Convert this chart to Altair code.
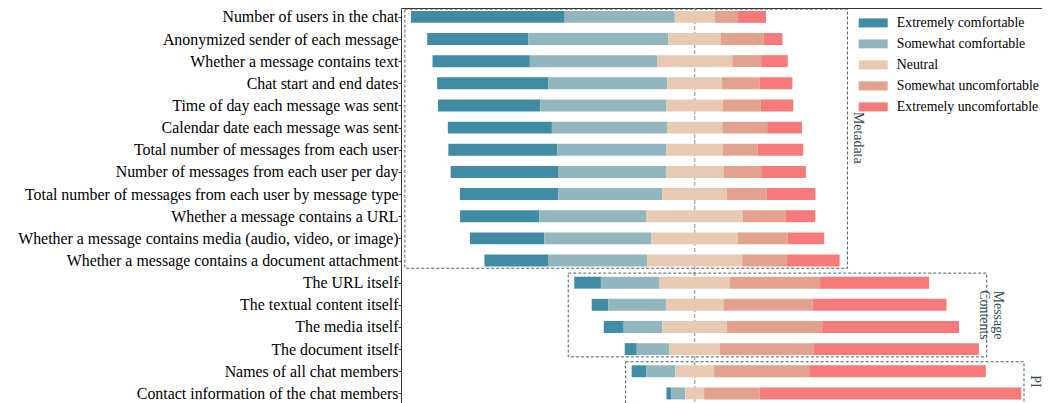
import altair as alt
import pandas as pd

questions = [
    "Number of users in the chat",
    "Anonymized sender of each message",
    "Whether a message contains text",
    "Chat start and end dates",
    "Time of day each message was sent",
    "Calendar date each message was sent",
    "Total number of messages from each user",
    "Number of messages from each user per day",
    "Total number of messages from each user by message type",
    "Whether a message contains a URL",
    "Whether a message contains media (audio, video, or image)",
    "Whether a message contains a document attachment",
    "The URL itself",
    "The textual content itself",
    "The media itself",
    "The document itself",
    "Names of all chat members",
    "Contact information of the chat members",
]
levels = ["Extremely comfortable", "Somewhat comfortable", "Neutral",
          "Somewhat uncomfortable", "Extremely uncomfortable"]
colors = ["#408ca5", "#91b6bd", "#e8c9b1", "#e2a28d", "#f67a79"]

extremely_comfortable = [43.3, 28.5, 27.4, 31.3, 28.8, 29.3, 30.7, 30.4, 27.7, 22.3, 20.9, 17.9, 7.5, 4.7, 5.6, 3.4, 4.2, 1.4]
somewhat_comfortable = [31.0, 39.4, 35.8, 33.5, 35.5, 32.4, 30.7, 30.2, 29.3, 30.2, 30.2, 27.9, 16.5, 16.2, 10.9, 9.2, 8.1, 3.9]
neutral = [11.2, 14.8, 21.2, 15.4, 15.9, 15.6, 15.9, 16.2, 18.2, 27.1, 24.3, 26.8, 19.8, 16.2, 18.2, 14.2, 10.9, 5.3]
somewhat_uncomfortable = [6.4, 12.0, 8.1, 10.6, 10.6, 12.6, 9.8, 10.6, 11.2, 12.0, 14.0, 12.6, 25.4, 25.1, 26.8, 26.3, 26.8, 15.6]
extremely_uncomfortable = [8.1, 5.3, 7.5, 9.2, 9.2, 9.8, 12.8, 12.6, 13.7, 8.4, 10.3, 14.8, 30.7, 37.7, 38.5, 46.6, 49.7, 73.7]

group_names = ["Metadata", "Message\nContents", "PI"]
group_first = [0, 12, 16]
group_last = [11, 15, 17]

SERIF = "Liberation Serif"
BOX_COLOR = "#2f4f4f"
Y_START = -0.40
ROW_STEP = 22.15

# ---- build tables ----
series = [extremely_comfortable, somewhat_comfortable, neutral,
          somewhat_uncomfortable, extremely_uncomfortable]
rows = []
lefts, rights = [], []
for i, q in enumerate(questions):
    vals = [s[i] for s in series]
    start = -(vals[0] + vals[1] + vals[2] / 2.0)
    lefts.append(start)
    cur = start
    for lvl, v in zip(levels, vals):
        rows.append({"idx": i, "question": q, "level": lvl,
                     "x0": cur, "x1": cur + v,
                     "y0": i - 0.27, "y1": i + 0.27, "pct": v})
        cur += v
    rights.append(cur)
bars_df = pd.DataFrame(rows)

last_row = len(questions) - 1
box_rows = []
for name, a, b in zip(group_names, group_first, group_last):
    lo = min(lefts[a:b + 1]) - 1.7
    hi = min(max(rights[a:b + 1]) + 2.2, 92.7)
    top = max(a - 0.43, Y_START + 0.05)
    bot = b + (0.6 if b == last_row else 0.35)
    box_rows.append({"group": name, "bx0": lo, "bx1": hi,
                     "by0": top, "by1": bot,
                     "tx": hi + 1.1, "ty": (a - 0.43 + b + 0.35) / 2.0})
box_df = pd.DataFrame(box_rows)
center_df = pd.DataFrame({"c": [0]})

X_SC = alt.Scale(domain=[-82.68, 97.77], nice=False, zero=False)
Y_SC = alt.Scale(domain=[Y_START, Y_START + 395 / ROW_STEP], reverse=True, nice=False, zero=False)

label_expr = "[" + ",".join('"' + q + '"' for q in questions) + "][datum.value]"

X_AX = alt.Axis(orient="top", labels=False, ticks=False, grid=False, title=None,
                domain=True, domainColor="#333333", domainWidth=1)
Y_AX = alt.Axis(orient="left", values=list(range(len(questions))), labelExpr=label_expr,
                title=None, grid=False, domain=True, domainColor="#333333", domainWidth=1,
                ticks=True, tickSize=3, tickColor="#333333", labelFont=SERIF,
                labelFontSize=15.9, labelColor="#000000", labelLimit=600,
                labelOverlap=False, labelPadding=0, labelBaseline="middle")

center = alt.Chart(center_df).mark_rule(
    color="#b0b0b0", strokeDash=[4, 2], strokeWidth=1.5
).encode(x=alt.X("c:Q", scale=X_SC, axis=X_AX))

bars = alt.Chart(bars_df).mark_rect().encode(
    x=alt.X("x0:Q", scale=X_SC, axis=X_AX),
    x2="x1:Q",
    y=alt.Y("y0:Q", scale=Y_SC, axis=Y_AX),
    y2="y1:Q",
    color=alt.Color("level:N", sort=levels,
                    scale=alt.Scale(domain=levels, range=colors),
                    legend=alt.Legend(orient="none", legendX=465.3, legendY=8, title=None,
                                      symbolType="M-2.9,-0.9H2.9V0.9H-2.9Z", symbolSize=100,
                                      symbolStrokeWidth=0, labelFont=SERIF, labelFontSize=13.8,
                                      labelColor="#000000", labelOffset=16.7, rowPadding=6,
                                      labelLimit=300)),
    tooltip=["question:N", "level:N", "pct:Q"],
)

boxes = alt.Chart(box_df).mark_rect(
    filled=False, stroke=BOX_COLOR, strokeWidth=1, strokeDash=[3, 2], strokeOpacity=0.9
).encode(
    x=alt.X("bx0:Q", scale=X_SC, axis=X_AX), x2="bx1:Q",
    y=alt.Y("by0:Q", scale=Y_SC, axis=Y_AX), y2="by1:Q",
)

labels = alt.Chart(box_df).mark_text(
    angle=90, align="center", baseline="bottom", font=SERIF, fontSize=13.9,
    color=BOX_COLOR, lineBreak="\n", lineHeight=14
).encode(
    x=alt.X("tx:Q", scale=X_SC, axis=X_AX),
    y=alt.Y("ty:Q", scale=Y_SC, axis=Y_AX),
    text="group:N",
)

chart = alt.layer(center, bars, boxes, labels).properties(
    width=641, height=395,
    padding={"left": 393, "top": 0, "right": 0, "bottom": 0},
    autosize=alt.AutoSizeParams(type="none"),
).configure_view(stroke=None)

chart.save("out.html", embed_options={"renderer": "svg", "actions": False})
